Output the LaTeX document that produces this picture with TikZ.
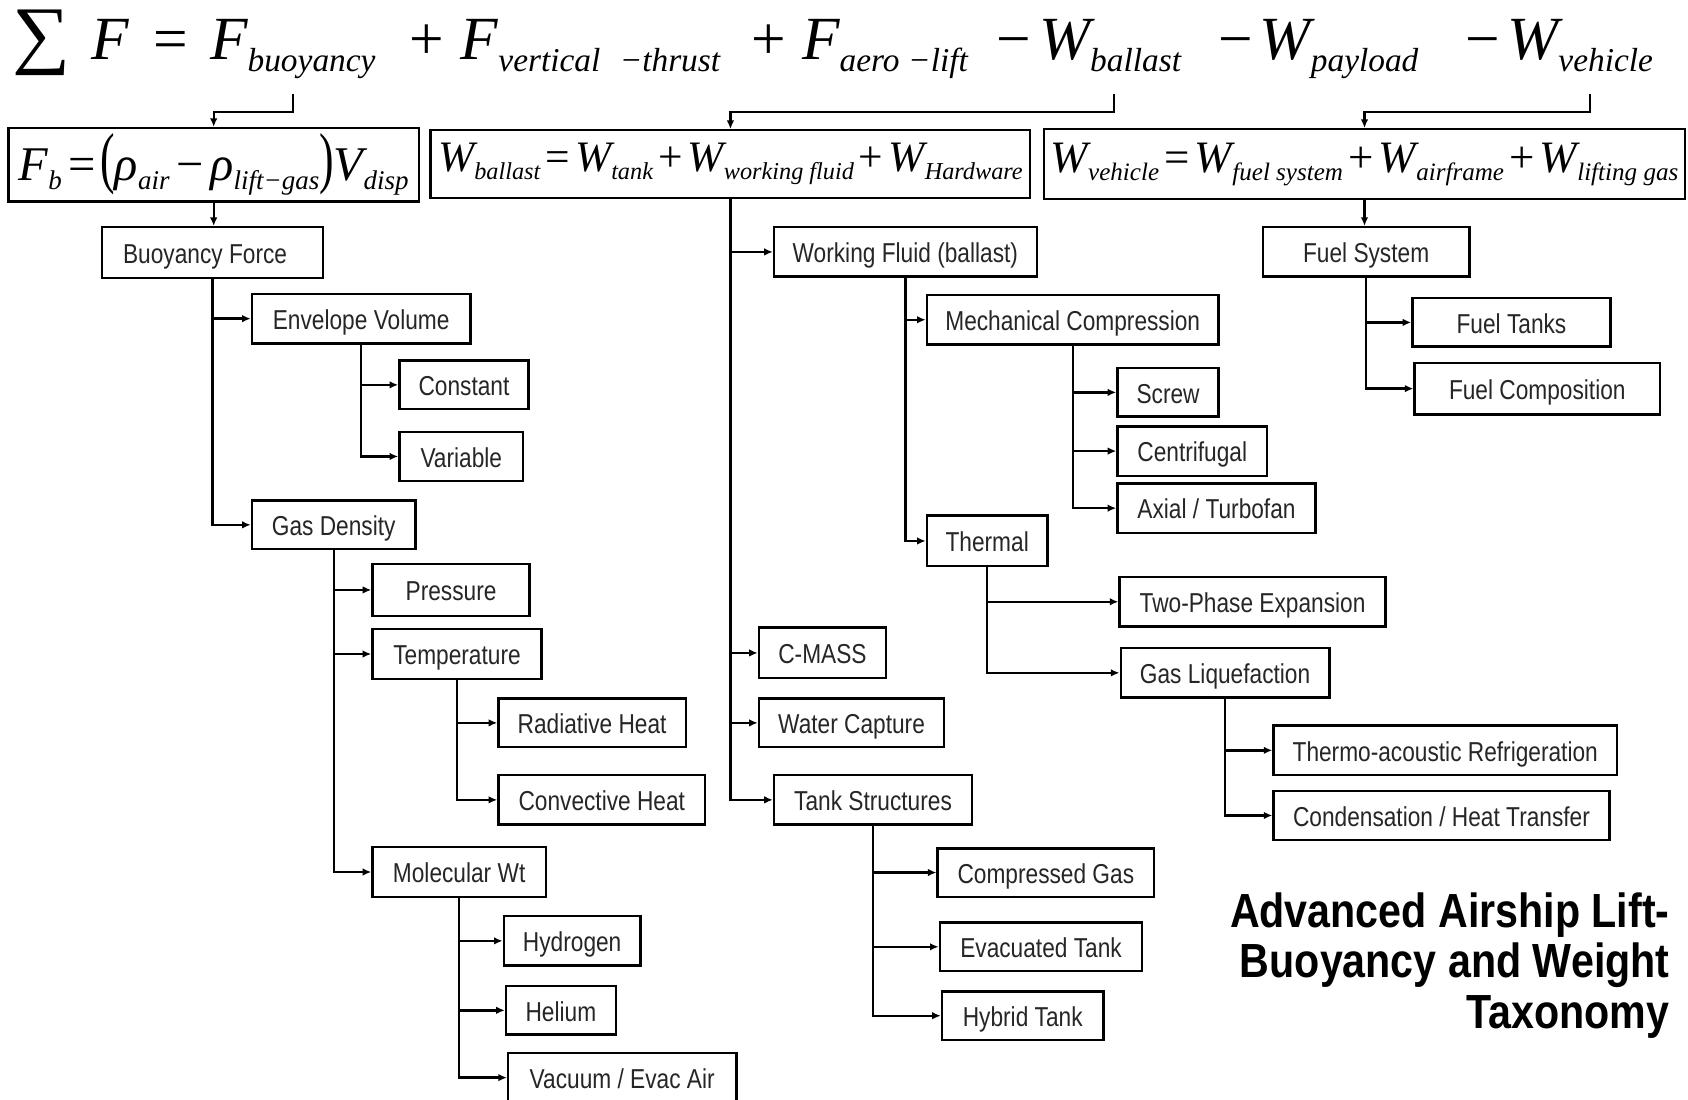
\documentclass[tikz,border=0pt]{standalone}
\usepackage{graphicx}
\usepackage{fontspec}
\usetikzlibrary{arrows.meta}
\newfontfamily\nodefont{Liberation Sans}[FakeStretch=0.83]
\newfontfamily\titlefont{Liberation Sans}[FakeStretch=0.86]
\newfontfamily\eqfont{Liberation Serif}
\newcommand\tsub[1]{\raisebox{-11pt}{\fontsize{31}{31}\selectfont #1}}
\newcommand\bsub[1]{\raisebox{-8pt}{\fontsize{24}{24}\selectfont #1}}
\newcommand\bigp[1]{\scalebox{0.9}[1.4]{\upshape #1}}
\newcommand\bx[6]{\node[box, minimum width={(#4-#2)*1pt}, minimum height={(#5-#3)*1pt}] (#1) at ({(#2+#4)/2},{-(#3+#5)/2}) {#6};}
\tikzset{
  box/.style={draw, line width=2.2pt, inner sep=0pt, text height=20pt, text depth=0pt, text=black!85, font=\nodefont\fontsize{25.4}{28}\selectfont},
  eqbox/.style={draw, line width=2.2pt, inner sep=0pt},
  arr/.style={line width=2.2pt, -{Latex[length=8pt,width=7pt]}},
  eqtop/.style={inner sep=0pt, anchor=base west, font=\eqfont\itshape\fontsize{57}{57}\selectfont},
  eqop/.style={inner sep=0pt, anchor=base, font=\eqfont\fontsize{57}{57}\selectfont}
}
\begin{document}
\begin{tikzpicture}[x=1pt,y=1pt]
\useasboundingbox (0,0) rectangle (1568,-1021);
\clip (0,0) rectangle (1568,-1021);
\fill[white] (0,0) rectangle (1568,-1021);
% ---------- top equation ----------
\node[inner sep=0pt] (tsum) at (39,-40) {\resizebox*{54pt}{61pt}{\eqfont ∑}};
\node[eqtop] (t1) at (85,-55) {F};
\node[eqop] (o1) at (158.5,-55) {=};
\node[eqtop] (t2) at (195,-55) {F\tsub{buoyancy}};
\node[eqop] (o2) at (396.5,-55) {+};
\node[eqtop] (t3) at (428,-55) {F\tsub{vertical\hspace{18pt}−thrust}};
\node[eqop] (o3) at (714,-55) {+};
\node[eqtop] (t4) at (745,-55) {F\tsub{aero\hspace{8pt}−lift}};
\node[eqop] (o4) at (941.5,-55) {−};
\node[eqtop] (t5) at (965,-55) {W\tsub{ballast}};
\node[eqop] (o5) at (1147.5,-55) {−};
\node[eqtop] (t6) at (1170,-55) {W\tsub{payload}};
\node[eqop] (o6) at (1377.5,-55) {−};
\node[eqtop] (t7) at (1400,-55) {W\tsub{vehicle}};
% ---------- equation boxes ----------
\node[eqbox, minimum width=381pt, minimum height=68pt] (fb) at (198.5,-153)
  {\resizebox{362pt}{!}{\eqfont\itshape\fontsize{43}{43}\selectfont F\bsub{b}\hspace{6pt}{\upshape =}\hspace{4pt}\bigp{(}ρ\bsub{air}\hspace{6pt}{\upshape −}\hspace{6pt}ρ\bsub{lift−gas}\bigp{)}V\bsub{disp}}};
\node[eqbox, minimum width=557pt, minimum height=63pt] (wb) at (678.5,-152.5)
  {\resizebox{543pt}{!}{\eqfont\itshape\fontsize{43}{43}\selectfont W\bsub{ballast}\hspace{5pt}{\upshape =}\hspace{5pt}W\bsub{tank}\hspace{5pt}{\upshape +}\hspace{5pt}W\bsub{working fluid}\hspace{5pt}{\upshape +}\hspace{5pt}W\bsub{Hardware}}};
\node[eqbox, minimum width=595pt, minimum height=65pt] (wv) at (1267.5,-152.5)
  {\resizebox{583pt}{!}{\eqfont\itshape\fontsize{43}{43}\selectfont W\bsub{vehicle}\hspace{5pt}{\upshape =}\hspace{5pt}W\bsub{fuel system}\hspace{5pt}{\upshape +}\hspace{5pt}W\bsub{airframe}\hspace{5pt}{\upshape +}\hspace{5pt}W\bsub{lifting gas}}};
% ---------- left column ----------
\bx{bf}{95}{211}{300}{258}{Buoyancy Force\hspace*{14pt}}
\bx{ev}{234}{273}{437}{319}{Envelope Volume}
\bx{con}{371}{335}{491}{380}{Constant}
\bx{var}{371}{401}{486}{447}{Variable}
\bx{gd}{234}{465}{386}{510}{Gas Density}
\bx{pr}{346}{524}{492}{572}{Pressure}
\bx{te}{346}{584}{503}{631}{Temperature}
\bx{rh}{463}{649}{637}{694}{Radiative Heat}
\bx{ch}{463}{720}{655}{766}{Convective Heat}
\bx{mw}{346}{787}{507}{833}{Molecular Wt}
\bx{hy}{468}{851}{595}{897}{Hydrogen}
\bx{he}{470}{916}{572}{961}{Helium}
\bx{va}{472}{978}{684}{1024}{Vacuum / Evac Air}
% ---------- middle column ----------
\bx{wf}{719}{211}{963}{257}{Working Fluid (ballast)}
\bx{mc}{861}{274}{1132}{320}{Mechanical Compression}
\bx{sc}{1038}{342}{1132}{387}{Screw}
\bx{ce}{1038}{396}{1177}{442}{Centrifugal}
\bx{ax}{1038}{449}{1222}{495}{Axial / Turbofan}
\bx{th}{861}{479}{973}{526}{Thermal}
\bx{tp}{1040}{536}{1287}{582}{Two-Phase Expansion}
\bx{gl}{1041}{602}{1235}{648}{Gas Liquefaction}
\bx{ta}{1183}{674}{1502}{720}{Thermo-acoustic Refrigeration}
\bx{cd}{1183}{735}{1495}{780}{Condensation / Heat Transfer}
\bx{cm}{705}{583}{823}{630}{C-MASS}
\bx{wc}{705}{649}{877}{694}{Water Capture}
\bx{ts}{719}{720}{903}{766}{Tank Structures}
\bx{cg}{871}{788}{1072}{833}{Compressed Gas}
\bx{et}{873}{857}{1061}{902}{Evacuated Tank}
\bx{ht}{875}{921}{1025}{966}{Hybrid Tank}
% ---------- right column ----------
\bx{fs}{1173}{211}{1365}{257}{Fuel System}
\bx{ft}{1312}{277}{1496}{322}{Fuel Tanks}
\bx{fc}{1314}{337}{1542}{385}{Fuel Composition}
% ---------- title ----------
\node[anchor=north east, align=right, inner sep=0pt, font=\titlefont\bfseries\fontsize{44.5}{47}\selectfont] (title) at (1551,-829) {Advanced Airship Lift-\\Buoyancy and Weight\\Taxonomy};
% ---------- connectors ----------
\coordinate (cbuoy) at (272,-87);
\coordinate (cball) at (1035,-87);
\coordinate (cveh) at (1477,-87);
\draw[arr] (cbuoy) -- ++(0,-17) -| (fb.north);
\draw[arr] (cball) -- ++(0,-17) -| (wb.north);
\draw[arr] (cveh) -- ++(0,-17) -| (wv.north);
\draw[arr] (fb.south) -- (fb.south |- bf.north);
\draw[arr] (wv.south) -- (wv.south |- fs.north);
\foreach \p/\c in {bf/ev, bf/gd, ev/con, ev/var, gd/pr, gd/te, gd/mw, te/rh, te/ch, mw/hy, mw/he, mw/va,
                   wb/wf, wb/cm, wb/wc, wb/ts, wf/mc, wf/th, mc/sc, mc/ce, mc/ax, th/tp, th/gl, gl/ta, gl/cd,
                   ts/cg, ts/et, ts/ht, fs/ft, fs/fc}
  \draw[arr] (\p.south) |- (\c.west);
\end{tikzpicture}
\end{document}
